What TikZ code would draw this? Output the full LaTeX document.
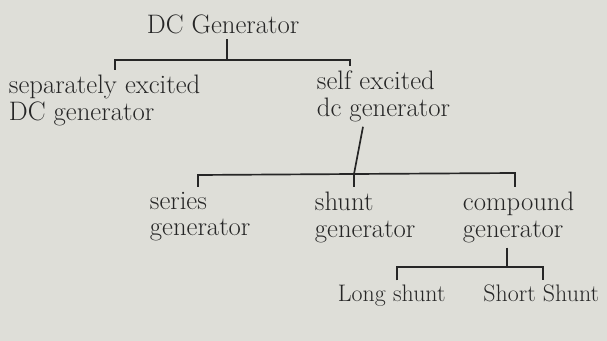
\documentclass[tikz,border=0pt]{standalone}
\usepackage{tikz}

\definecolor{paper}{RGB}{222,222,216}
\definecolor{pen}{RGB}{38,38,38}

\tikzset{
    label/.style={inner sep=3.3pt, text=pen, font=\fontsize{19}{19}\selectfont},
    twoline/.style={label, align=left, anchor=north west},
    oneline/.style={label, anchor=base west},
    leaf/.style={label, font=\fontsize{17}{19}\selectfont},
    branch/.style={draw=pen, line width=1.2pt}
}

\begin{document}
\begin{tikzpicture}[x=0.025cm, y=-0.025cm]
    % Paper
    \fill[paper] (0,0) rectangle (607,341);
    \useasboundingbox (0,0) rectangle (607,341);
    % Top
    \node[oneline] (dcgen) at (142,34) {DC Generator};
    % First level
    \node[twoline] (sep) at (4,70) {separately excited\\DC generator};
    \node[twoline] (self) at (312,66) {self excited\\dc generator};
    % Second level
    \node[twoline] (series) at (145,187) {series\\generator};
    \node[twoline] (shunt) at (310,187) {shunt\\generator};
    \node[twoline] (compound) at (458,187) {compound\\generator};
    % Third level
    \node[leaf, anchor=base west] (long) at (333,302) {Long shunt};
    \node[leaf, anchor=base east] (short) at (604,302) {Short Shunt};
    % Branch to first level
    \coordinate (j1) at (227,60);
    \coordinate (b1l) at (115,60);
    \coordinate (b1r) at (350,60);
    \draw[branch] (j1 |- dcgen.south) -- (j1);
    \draw[branch] (b1l |- sep.north) -- (b1l) -- (b1r) -- (b1r |- self.north);
    % Branch to second level
    \coordinate (s2) at (363,0);
    \coordinate (j2) at (354,174);
    \coordinate (b2l) at (198,175);
    \coordinate (b2r) at (515,173);
    \draw[branch] (s2 |- self.south) -- (j2) -- (j2 |- shunt.north);
    \draw[branch] (b2l |- series.north) -- (b2l) -- (j2) -- (b2r) -- (b2r |- compound.north);
    % Branch to third level
    \coordinate (s3) at (507,0);
    \coordinate (b3l) at (397,267);
    \coordinate (b3r) at (543,267);
    \draw[branch] (s3 |- compound.south) -- (s3 |- b3l);
    \draw[branch] (b3l |- long.north) -- (b3l) -- (b3r) -- (b3r |- short.north);
\end{tikzpicture}
\end{document}
